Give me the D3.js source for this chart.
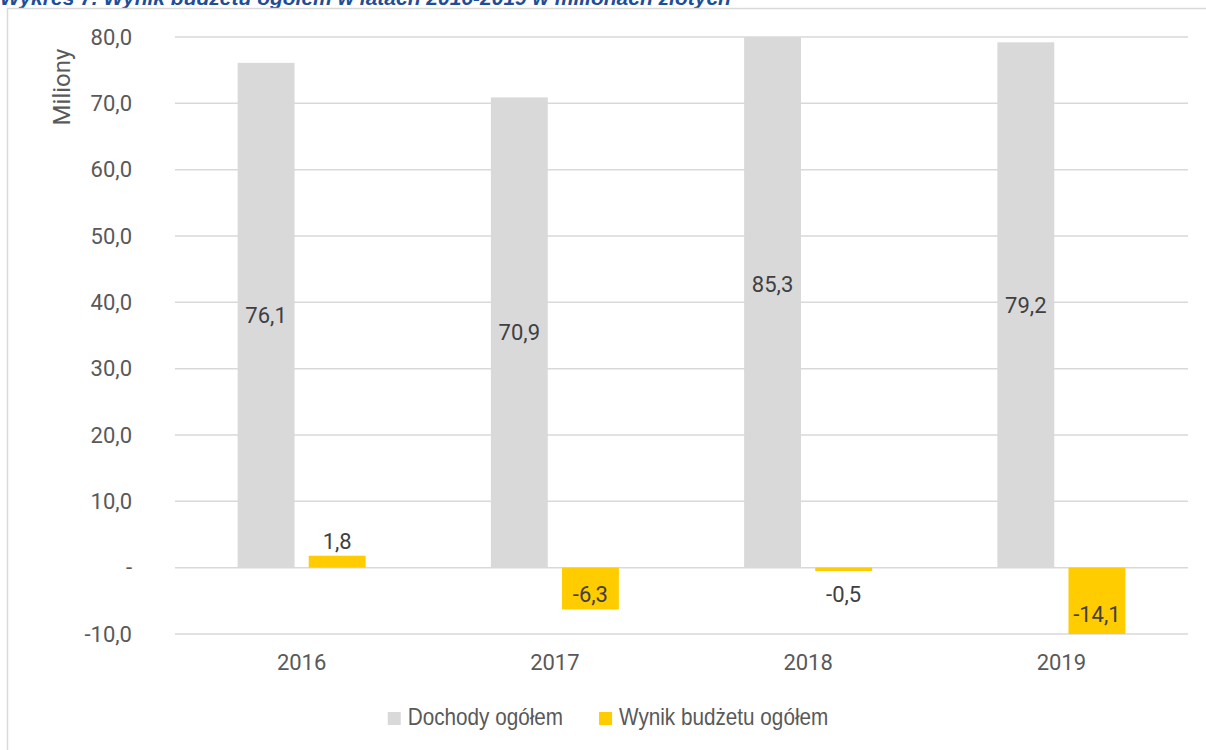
<!DOCTYPE html>
<html>
<head>
<meta charset="utf-8">
<script src="https://cdn.jsdelivr.net/npm/d3@7"></script>
<style>
  body { margin: 0; background: #fff; }
  svg { display: block; }
</style>
</head>
<body>
<svg id="chart"></svg>
<script>
// Data (milions PLN)
const years = ['2016', '2017', '2018', '2019'];
const seriesNames = ['Dochody ogółem', 'Wynik budżetu ogółem'];
const dochody = [76.1, 70.9, 85.3, 79.2];
const wynik = [1.8, -6.3, -0.5, -14.1];
const yTicks = [-10, 0, 10, 20, 30, 40, 50, 60, 70, 80];

const colors = ['#d9d9d9', '#ffcc00'];
// Polish style numbers, plain hyphen for minus, dash for zero
const locale = d3.formatLocale({decimal: ',', thousands: ' ', grouping: [3], currency: ['', ' zł'], minus: '-'});
const fmt = v => v === 0 ? '-' : locale.format('.1f')(v);

const W = 1206, H = 750;
const margin = {top: 37, right: 18, bottom: 116, left: 175};
const width = 1188 - margin.left;
const height = 634 - margin.top;

const svg = d3.select('#chart').attr('width', W).attr('height', H);

// Title (cut off at the top edge, as in the source)
svg.append('text')
    .attr('x', 0)
    .attr('y', 5)
    .attr('fill', '#1f4e99')
    .style('font', 'italic bold 21px "Liberation Sans", Arial, sans-serif')
    .text('Wykres 7. Wynik budżetu ogółem w latach 2016-2019 w milionach złotych');

// Frame
svg.append('path')
    .attr('d', `M7.5,${H} V8.5 H${W}`)
    .attr('fill', 'none')
    .attr('stroke', '#d9d9d9')
    .attr('stroke-width', 1.5);

const chart = svg.append('g')
    .attr('transform', `translate(${margin.left},${margin.top})`);

// Scales
const yScale = d3.scaleLinear().domain([-10, 80]).range([height, 0]);
const x0 = d3.scaleBand().domain(years).range([0, width]).paddingInner(0.4946).paddingOuter(0.2473);
const x1 = d3.scaleBand().domain([0, 1]).range([0, x0.bandwidth()]).paddingInner(0.2).paddingOuter(0);

// Gridlines
chart.append('g')
    .selectAll('line')
    .data(yTicks)
  .join('line')
    .attr('x1', 0)
    .attr('x2', width)
    .attr('y1', d => yScale(d))
    .attr('y2', d => yScale(d))
    .attr('stroke', '#d9d9d9')
    .attr('stroke-width', 1.5);

// Y axis
const yAxis = d3.axisLeft(yScale)
    .tickValues(yTicks)
    .tickSize(0)
    .tickPadding(43)
    .tickFormat(fmt);

const yAxisG = chart.append('g').call(yAxis);
yAxisG.select('.domain').remove();
yAxisG.selectAll('text')
    .attr('fill', '#595959')
    .style('font', '22px Roboto, sans-serif');

// X axis
const xAxis = d3.axisBottom(x0).tickSize(0).tickPadding(20);
const xAxisG = chart.append('g')
    .attr('transform', `translate(0,${height})`)
    .call(xAxis);
xAxisG.select('.domain').remove();
xAxisG.selectAll('text')
    .attr('fill', '#595959')
    .style('font', '22px Roboto, sans-serif');

// Axis title
svg.append('text')
    .attr('transform', `translate(70,87) rotate(-90)`)
    .attr('text-anchor', 'middle')
    .attr('fill', '#595959')
    .style('font', '24px Roboto, sans-serif')
    .text('Miliony');

// Bars, clipped to the plot area
chart.append('clipPath')
    .attr('id', 'plot-clip')
  .append('rect')
    .attr('x', 0)
    .attr('y', 0)
    .attr('width', width)
    .attr('height', height);

const rows = years.map((y, i) => ({year: y, values: [dochody[i], wynik[i]]}));

const groups = chart.append('g')
    .attr('clip-path', 'url(#plot-clip)')
    .selectAll('g')
    .data(rows)
  .join('g')
    .attr('transform', d => `translate(${x0(d.year)},0)`);

groups.selectAll('rect')
    .data(d => d.values.map((v, s) => ({v, s})))
  .join('rect')
    .attr('x', d => x1(d.s))
    .attr('width', x1.bandwidth())
    .attr('y', d => yScale(Math.max(0, d.v)))
    .attr('height', d => Math.abs(yScale(d.v) - yScale(0)))
    .attr('fill', d => colors[d.s]);

// Data labels
const labelGroups = chart.append('g')
    .selectAll('g')
    .data(rows)
  .join('g')
    .attr('transform', d => `translate(${x0(d.year)},0)`);

function labelY(d) {
  if (d.s === 0) return yScale(d.v / 2);
  if (d.v > 0) return yScale(d.v) - 14;
  return Math.max(yScale(d.v / 2), yScale(0) + 27);
}

labelGroups.selectAll('text')
    .data(d => d.values.map((v, s) => ({v, s})))
  .join('text')
    .attr('x', d => x1(d.s) + x1.bandwidth() / 2)
    .attr('y', d => labelY(d))
    .attr('dy', '0.35em')
    .attr('text-anchor', 'middle')
    .attr('fill', '#404040')
    .style('font', '22px Roboto, sans-serif')
    .text(d => fmt(d.v));

// Legend (narrow font imitated by squeezing Liberation Sans)
const legend = svg.append('g');
const items = legend.selectAll('g')
    .data(seriesNames)
  .join('g');

items.append('rect')
    .attr('y', 712)
    .attr('width', 13)
    .attr('height', 13)
    .attr('fill', (d, i) => colors[i]);

const squeeze = 0.9;
items.append('text')
    .attr('transform', `translate(20,725) scale(${squeeze},1)`)
    .attr('fill', '#595959')
    .style('font', '23px "Liberation Sans", Arial, sans-serif')
    .text(d => d);

let offset = 0;
items.each(function() {
  const g = d3.select(this);
  g.attr('transform', `translate(${offset},0)`);
  offset += 20 + g.select('text').node().getComputedTextLength() * squeeze + 36;
});
const total = offset - 36;
legend.attr('transform', `translate(${608 - total / 2},0)`);
</script>
</body>
</html>
